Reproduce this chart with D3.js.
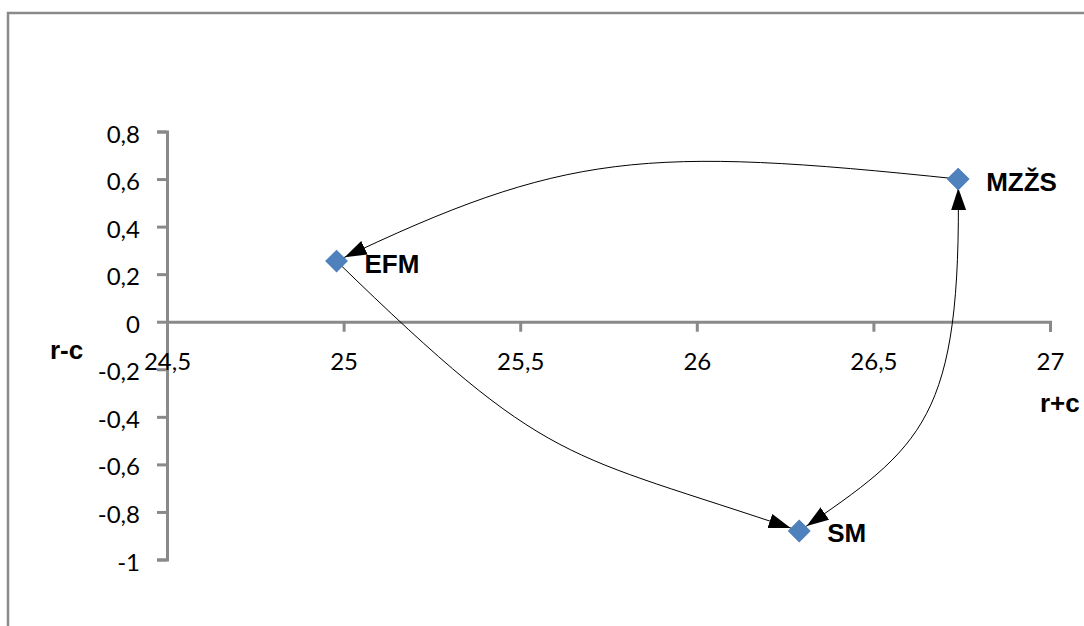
<!DOCTYPE html>
<html>
<head>
<meta charset="utf-8">
<script src="https://cdn.jsdelivr.net/npm/d3@7/dist/d3.min.js"></script>
<style>
  html, body { margin: 0; padding: 0; background: #fff; }
  svg { display: block; }
</style>
</head>
<body>
<svg id="chart" width="1084" height="626"></svg>
<script>
// ---- data ----
const categories = ["EFM", "SM", "MZŽS"];
const xValues = [24.98, 26.29, 26.74];   // r+c
const yValues = [0.255, -0.88, 0.6];     // r-c
const xTicks = [24.5, 25, 25.5, 26, 26.5, 27];
const yTicks = [-1, -0.8, -0.6, -0.4, -0.2, 0, 0.2, 0.4, 0.6, 0.8];
const xTitle = "r+c";
const yTitle = "r-c";
// arrows between categories (cubic control points in data units)
const arrowFrom = ["MZŽS", "EFM", "SM"];
const arrowTo = ["EFM", "SM", "MZŽS"];
const arrowCtrl1 = [[25.85, 0.739], [25.587, -0.6225], [26.642, -0.524]];
const arrowCtrl2 = [[25.627, 0.715], [25.617, -0.540], [26.750, -0.410]];
const arrowBothEnds = [false, false, true];

// ---- layout ----
const svg = d3.select("#chart");
const axisColor = "#898989";
const tickFont = "Lato, 'Open Sans', sans-serif";
const boldFont = "'Liberation Sans', Arial, sans-serif";

const x = d3.scaleLinear().domain([24.5, 27]).range([167, 1050]);
const y = d3.scaleLinear().domain([-1, 0.8]).range([559.5, 131.5]);

const loc = d3.formatLocale({decimal: ",", thousands: ".", grouping: [3], currency: ["", ""], minus: "-"});
const fmt = loc.format("~g");

// outer border
svg.append("rect")
  .attr("x", 8).attr("y", 13)
  .attr("width", 1200).attr("height", 700)
  .attr("fill", "none")
  .attr("stroke", "#8a8a8a")
  .attr("stroke-width", 2.5);

// y axis
const yAxisG = svg.append("g")
  .attr("transform", `translate(${x(24.5)},0)`)
  .call(d3.axisLeft(y).tickValues(yTicks).tickFormat(fmt).tickSize(10).tickPadding(17));
// x axis
const xAxisG = svg.append("g")
  .attr("transform", `translate(0,${y(0)})`)
  .call(d3.axisBottom(x).tickValues(xTicks).tickFormat(fmt).tickSize(10).tickPadding(21));

[yAxisG, xAxisG].forEach(g => {
  g.select(".domain").attr("stroke", axisColor).attr("stroke-width", 3);
  g.selectAll(".tick line").attr("stroke", axisColor).attr("stroke-width", 3);
  g.selectAll(".tick text")
    .attr("fill", "#000")
    .style("font-family", tickFont)
    .style("font-size", "24px");
});
yAxisG.selectAll(".tick text").attr("dy", "0.44em");
xAxisG.selectAll(".tick text").attr("dy", "0.71em");

// axis titles
svg.append("text")
  .attr("x", x(24.5) - 117).attr("y", y(0) + 37)
  .style("font-family", boldFont).style("font-weight", "bold").style("font-size", "26px")
  .text(yTitle);
svg.append("text")
  .attr("x", x(27) - 10).attr("y", y(0) + 90)
  .style("font-family", boldFont).style("font-weight", "bold").style("font-size", "26px")
  .text(xTitle);

// arrow markers
const defs = svg.append("defs");
["arrowEnd", "arrowStart"].forEach((id, i) => {
  defs.append("marker")
    .attr("id", id)
    .attr("viewBox", "0 -10 34 20")
    .attr("markerUnits", "userSpaceOnUse")
    .attr("markerWidth", 34).attr("markerHeight", 20)
    .attr("refX", 31).attr("refY", 0)
    .attr("orient", i === 0 ? "auto" : "auto-start-reverse")
    .append("path")
    .attr("d", "M0,-7.5L22,0L0,7.5Z")
    .attr("fill", "#000");
});

const idx = name => categories.indexOf(name);
arrowFrom.forEach((from, i) => {
  const a = idx(from), b = idx(arrowTo[i]);
  const p = d3.path();
  p.moveTo(x(xValues[a]), y(yValues[a]));
  p.bezierCurveTo(
    x(arrowCtrl1[i][0]), y(arrowCtrl1[i][1]),
    x(arrowCtrl2[i][0]), y(arrowCtrl2[i][1]),
    x(xValues[b]), y(yValues[b]));
  const path = svg.append("path")
    .attr("d", p.toString())
    .attr("fill", "none")
    .attr("stroke", "#000")
    .attr("stroke-width", 1)
    .attr("marker-end", "url(#arrowEnd)");
  if (arrowBothEnds[i]) path.attr("marker-start", "url(#arrowStart)");
});

// points (diamonds)
const diamond = d3.symbol().type(d3.symbolSquare).size(229);
svg.append("g").selectAll("path")
  .data(categories)
  .join("path")
  .attr("d", diamond)
  .attr("transform", (d, i) => `translate(${x(xValues[i])},${y(yValues[i])}) rotate(45)`)
  .attr("fill", "#4F81BD")
  .attr("stroke", "#4A7EBB")
  .attr("stroke-width", 1);

// point labels
svg.append("g").selectAll("text")
  .data(categories)
  .join("text")
  .attr("x", (d, i) => x(xValues[i]) + 28)
  .attr("y", (d, i) => y(yValues[i]) + 11.5)
  .style("font-family", boldFont).style("font-weight", "bold").style("font-size", "26px")
  .attr("fill", "#000")
  .text(d => d);
</script>
</body>
</html>
